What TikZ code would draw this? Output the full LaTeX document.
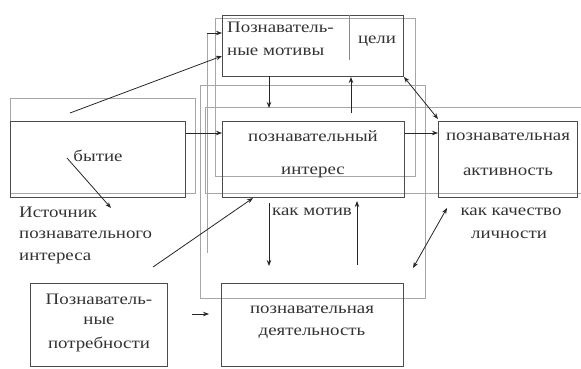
\documentclass[tikz,border=0pt]{standalone}
\usepackage{fontspec}
\setmainfont[FakeStretch=1.18]{Liberation Serif}
\usetikzlibrary{arrows.meta}
\begin{document}
\begin{tikzpicture}[x=1pt,y=-1pt,
  box/.style={draw=black!70,line width=0.9pt},
  frame/.style={draw=black!35,line width=0.7pt},
  lbl/.style={font=\fontsize{16}{18}\selectfont,text=black!80,inner sep=0pt},
  arr/.style={draw=black!85,line width=0.8pt,-{Stealth[length=6pt,width=4.5pt]}},
  barr/.style={draw=black!85,line width=0.8pt,{Stealth[length=6pt,width=4.5pt]}-{Stealth[length=6pt,width=4.5pt]}}]
\useasboundingbox[fill=white] (0,0) rectangle (581,368);
% light frames
\draw[frame] (200,85) rectangle (425,298);
\draw[frame] (205,107) -- (581,107);
\draw[frame] (205,107) -- (205,193) -- (581,193);
\draw[frame] (215,18) rectangle (415,176);
\draw[frame] (10,98) rectangle (195,193);
\coordinate (vtop) at (207,33);
\coordinate (vbot) at (207,253);
\draw[frame] (vbot) -- (vtop);
% main boxes
\node[box,minimum width=181pt,minimum height=61pt,anchor=north west,inner sep=0pt] (mot) at (222,15) {};
\draw[box,draw=black!45] (349,15) -- (349,60);
\node[box,minimum width=182pt,minimum height=76pt,anchor=north west,inner sep=0pt] (int) at (222,121) {};
\node[box,minimum width=139pt,minimum height=76pt,anchor=north west,inner sep=0pt] (act) at (438,121) {};
\node[box,minimum width=175pt,minimum height=76pt,anchor=north west,inner sep=0pt] (bei) at (10,121) {};
\node[box,minimum width=137pt,minimum height=83pt,anchor=north west,inner sep=0pt] (need) at (30,283) {};
\node[box,minimum width=182pt,minimum height=83pt,anchor=north west,inner sep=0pt] (dea) at (221,283) {};
% texts
\node[lbl,anchor=west] (t1) at (227,27) {Познаватель-};
\node[lbl,anchor=west] (t2) at (227,52) {ные мотивы};
\node[lbl] (t3) at (377,41) {цели};
\node[lbl] (t4) at (313,136) {познавательный};
\node[lbl] (t5) at (313,172) {интерес};
\node[lbl] (t6) at (508,137) {познавательная};
\node[lbl] (t7) at (508,172) {активность};
\node[lbl] (t8) at (98,156) {бытие};
\node[lbl] (t9) at (312,212) {как мотив};
\node[lbl] (t10) at (511,212) {как качество};
\node[lbl] (t11) at (509,235) {личности};
\node[lbl,anchor=west] (t12) at (19,212) {Источник};
\node[lbl,anchor=west] (t13) at (19,235) {познавательного};
\node[lbl,anchor=west] (t14) at (19,258) {интереса};
\node[lbl] (t15) at (99,299) {Познаватель-};
\node[lbl] (t16) at (99,321) {ные};
\node[lbl] (t17) at (99,344) {потребности};
\node[lbl] (t18) at (312,310) {познавательная};
\node[lbl] (t19) at (312,333) {деятельность};
% connector endpoints
\coordinate (a1) at (70,113);
\coordinate (a2) at (67,158);
\coordinate (a3) at (111,208);
\coordinate (a4) at (153,267);
\coordinate (a5) at (192,314);
\draw[arr] (a1) -- (mot.west |- 0,56);
\draw[arr] (vtop) -- (mot.west |- 0,33);
\draw[arr] (269,76) -- (269,108);
\draw[arr] (351,113) -- (351,77);
\draw[barr] (mot.south east) -- (438,119);
\draw[arr] (int.east |- 0,133) -- (act.west |- 0,133);
\draw[arr] (bei.east |- 0,133) -- (int.west |- 0,133);
\draw[arr] (a2) -- (a3);
\draw[arr] (a4) -- (253,198);
\draw[arr] (269,203) -- (269,266);
\draw[arr] (357,265) -- (357,201);
\draw[barr] (413,268) -- (447,208);
\draw[arr] (a5) -- (209,314);
\end{tikzpicture}
\end{document}
